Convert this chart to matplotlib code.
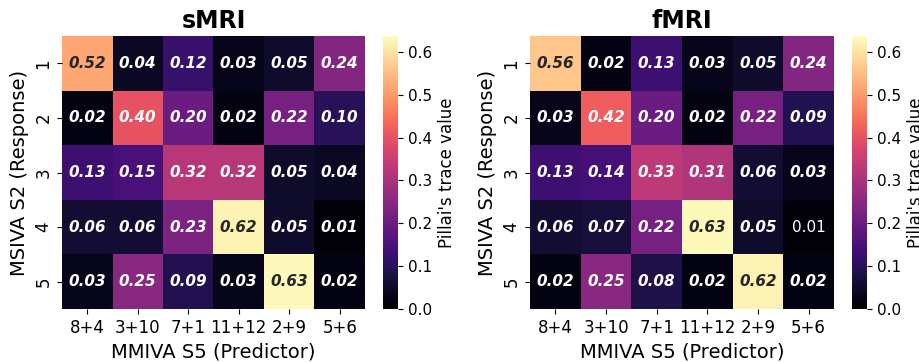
import numpy as np
import pandas as pd
import matplotlib
matplotlib.use('Agg')
import matplotlib.pyplot as plt
import seaborn as sns

# Predictor / response component labels
predictors = ['8+4', '3+10', '7+1', '11+12', '2+9', '5+6']
responses = ['1', '2', '3', '4', '5']

# Pillai's trace values (rows = MSIVA S2, cols = MMIVA S5)
smri_vals = [
    [0.52, 0.04, 0.12, 0.03, 0.05, 0.24],
    [0.02, 0.40, 0.20, 0.02, 0.22, 0.10],
    [0.13, 0.15, 0.32, 0.32, 0.05, 0.04],
    [0.06, 0.06, 0.23, 0.62, 0.05, 0.01],
    [0.03, 0.25, 0.09, 0.03, 0.63, 0.02],
]
fmri_vals = [
    [0.56, 0.02, 0.13, 0.03, 0.05, 0.24],
    [0.03, 0.42, 0.20, 0.02, 0.22, 0.09],
    [0.13, 0.14, 0.33, 0.31, 0.06, 0.03],
    [0.06, 0.07, 0.22, 0.63, 0.05, 0.01],
    [0.02, 0.25, 0.08, 0.02, 0.62, 0.02],
]

fig = plt.figure(figsize=(9.2, 3.62), dpi=100)

panels = [
    ('sMRI', smri_vals, [0.0674, 0.1464, 0.3293, 0.754], [0.4163, 0.1464, 0.0163, 0.754]),
    ('fMRI', fmri_vals, [0.5761, 0.1464, 0.3304, 0.754], [0.9261, 0.1464, 0.0163, 0.754]),
]

for title, vals, pos, cpos in panels:
    ax = fig.add_axes(pos)
    cax = fig.add_axes(cpos)
    df = pd.DataFrame(vals, index=responses, columns=predictors)
    sns.heatmap(df, ax=ax, cbar_ax=cax, cmap='magma', vmin=0, vmax=0.637,
                annot=True, fmt='.2f',
                annot_kws={'size': 11, 'weight': 'bold', 'style': 'italic'})
    ax.set_title(title, fontsize=17, fontweight='bold')
    ax.set_xlabel('MMIVA S5 (Predictor)', fontsize=14)
    ax.set_ylabel('MSIVA S2 (Response)', fontsize=14)
    ax.tick_params(axis='both', labelsize=12)
    ax.set_yticklabels(responses, rotation=90, va='center')
    ax.set_xticklabels(predictors, rotation=0)
    cax.tick_params(labelsize=11)
    cax.set_ylabel("Pillai's trace value", fontsize=12)
    if title == 'fMRI':
        # this one cell is drawn in plain text in the original
        for t in ax.texts:
            if t.get_text() == '0.01':
                t.set_fontweight('normal')
                t.set_fontstyle('normal')

fig.savefig('out.png', dpi=100)
